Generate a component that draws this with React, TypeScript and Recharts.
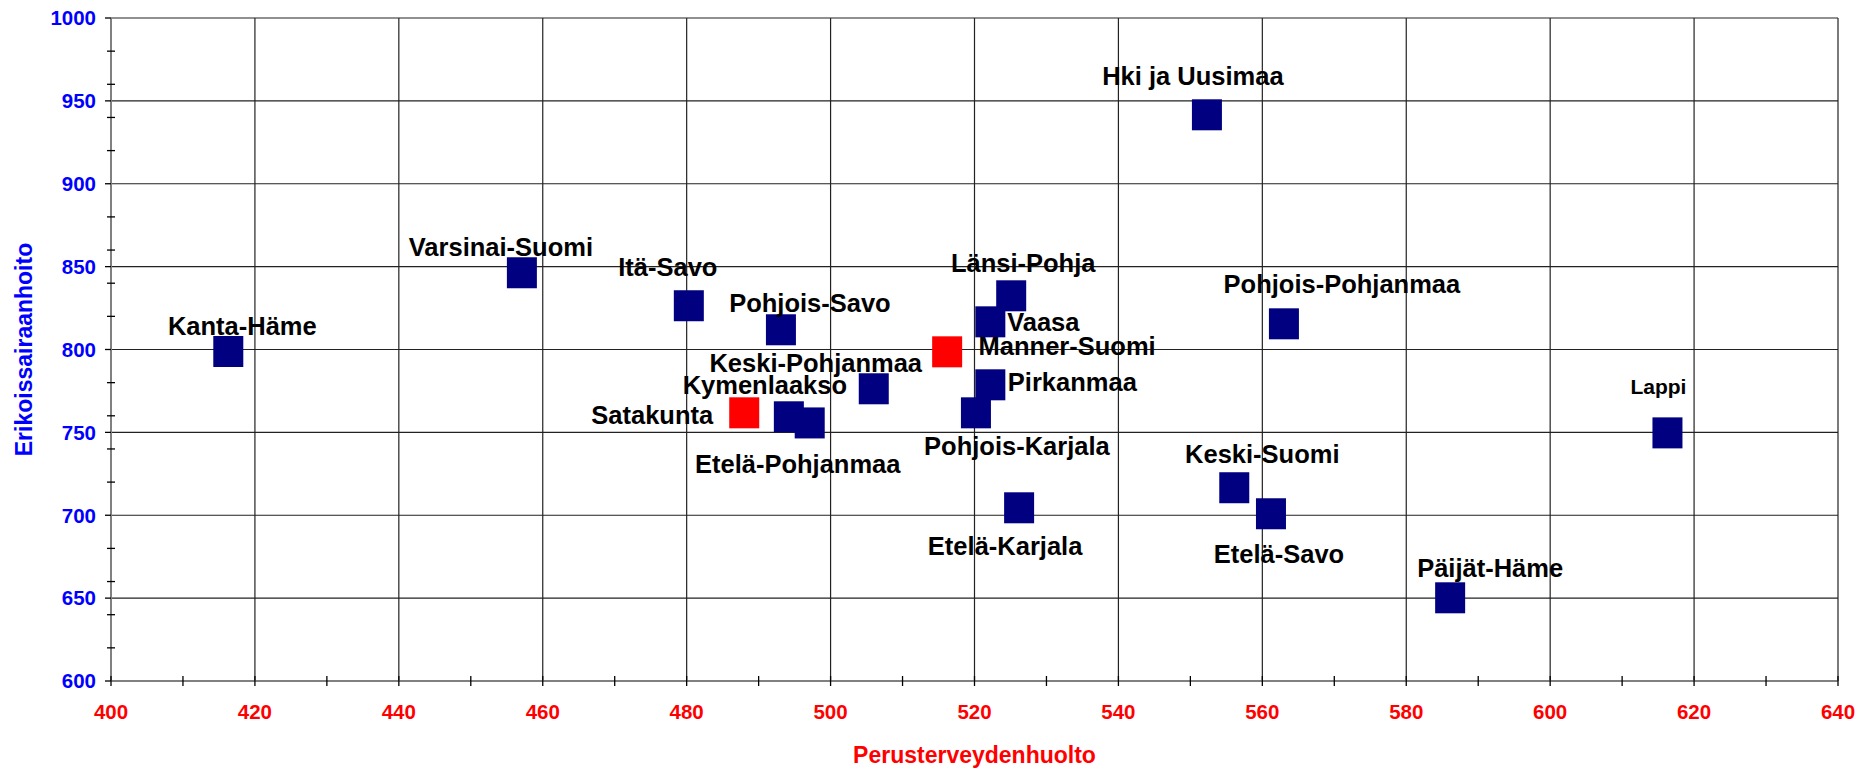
import { ScatterChart, Scatter, XAxis, YAxis, CartesianGrid } from 'recharts';

const regions = [
  'Kanta-Häme', 'Varsinai-Suomi', 'Itä-Savo', 'Pohjois-Savo', 'Keski-Pohjanmaa',
  'Kymenlaakso', 'Etelä-Pohjanmaa', 'Pohjois-Karjala', 'Etelä-Karjala', 'Vaasa',
  'Länsi-Pohja', 'Pirkanmaa', 'Hki ja Uusimaa', 'Pohjois-Pohjanmaa', 'Keski-Suomi',
  'Etelä-Savo', 'Päijät-Häme', 'Lappi',
];
const perusterveys = [416.3, 457.1, 480.3, 493.1, 506.0, 494.2, 497.1, 520.2, 526.2, 522.2, 525.1, 522.2, 552.3, 563.0, 556.1, 561.2, 586.1, 616.3];
const erikoissairaan = [799.1, 846.6, 826.7, 812.2, 776.6, 759.7, 756.0, 762.1, 704.8, 817.0, 832.7, 779.0, 941.9, 815.8, 716.9, 701.2, 650.5, 750.0];

const refRegions = ['Manner-Suomi', 'Satakunta'];
const refPerusterveys = [516.2, 488.0];
const refErikoissairaan = [798.9, 762.1];

const xMajor = [400, 420, 440, 460, 480, 500, 520, 540, 560, 580, 600, 620, 640];
const xMinor = [410, 430, 450, 470, 490, 510, 530, 550, 570, 590, 610, 630];
const yMajor = [600, 650, 700, 750, 800, 850, 900, 950, 1000];
const yMinor = [620, 640, 660, 680, 720, 740, 760, 780, 820, 840, 860, 880, 920, 940, 960, 980];

// label placement relative to marker centre: [dx, baseline dy]
const labelPos: Record<string, [number, number]> = {
  'Kanta-Häme': [14, -16],
  'Varsinai-Suomi': [-21, -16],
  'Itä-Savo': [-21, -29],
  'Pohjois-Savo': [29, -17],
  'Keski-Pohjanmaa': [-58, -16],
  'Kymenlaakso': [-24, -22],
  'Satakunta': [-92, 12],
  'Etelä-Pohjanmaa': [-12, 51],
  'Pohjois-Karjala': [41, 43],
  'Etelä-Karjala': [-14, 48],
  'Manner-Suomi': [120, 4],
  'Vaasa': [53, 10],
  'Pirkanmaa': [82, 7],
  'Länsi-Pohja': [12, -23],
  'Hki ja Uusimaa': [-14, -29],
  'Pohjois-Pohjanmaa': [58, -30],
  'Keski-Suomi': [28, -24],
  'Etelä-Savo': [8, 50],
  'Päijät-Häme': [40, -20],
  'Lappi': [-9, -38],
};

const mainData = regions.map((name, i) => ({ name, x: perusterveys[i], y: erikoissairaan[i] }));
const refData = refRegions.map((name, i) => ({ name, x: refPerusterveys[i], y: refErikoissairaan[i] }));

const xTicks = [...xMajor, ...xMinor].sort((a, b) => a - b);
const yTicks = [...yMajor, ...yMinor].sort((a, b) => a - b);

const FONT = '"Liberation Sans", Arial, sans-serif';
const TICK_SIZE = 5;
const X_MARGIN = 18;
const Y_MARGIN = 10;

const XTick = (props: any) => {
  const { x, y, payload } = props;
  const axisY = y - TICK_SIZE - X_MARGIN;
  const major = xMajor.includes(payload.value);
  return (
    <g>
      <line x1={x} x2={x} y1={axisY - 5} y2={axisY + 5} stroke="#000" strokeWidth={1.3} />
      {major && (
        <text x={x} y={y} dy="0.71em" textAnchor="middle" fill="#ff0000" fontSize={20.5} fontWeight="bold" fontFamily={FONT}>
          {payload.value}
        </text>
      )}
    </g>
  );
};

const YTick = (props: any) => {
  const { x, y, payload } = props;
  const axisX = x + TICK_SIZE + Y_MARGIN;
  const major = yMajor.includes(payload.value);
  return (
    <g>
      {major ? (
        <line x1={axisX - 6} x2={axisX} y1={y} y2={y} stroke="#000" strokeWidth={1.3} />
      ) : (
        <line x1={axisX - 4} x2={axisX + 4} y1={y} y2={y} stroke="#000" strokeWidth={1.3} />
      )}
      {major && (
        <text x={x} y={y} dy="0.355em" textAnchor="end" fill="#0000ff" fontSize={20.5} fontWeight="bold" fontFamily={FONT}>
          {payload.value}
        </text>
      )}
    </g>
  );
};

const makeMarker = (color: string) => (props: any) => {
  const { cx, cy, payload } = props;
  const [dx, dy] = labelPos[payload.name] || [0, -20];
  const small = payload.name === 'Lappi';
  return (
    <g>
      <rect x={cx - 15} y={cy - 15} width={30} height={31} fill={color} />
      <text
        x={cx + dx}
        y={cy + dy}
        textAnchor="middle"
        fontSize={small ? 21 : 25.5}
        fontWeight="bold"
        fontFamily={FONT}
        fill="#000"
      >
        {payload.name}
      </text>
    </g>
  );
};

export default function App() {
  return (
    <div style={{ position: 'absolute', left: 0, top: 0, background: '#fff' }}>
      <ScatterChart width={1872} height={771} margin={{ top: 18, right: 34, left: 0, bottom: 0 }}>
        <CartesianGrid
          stroke="#222"
          strokeWidth={1.2}
          horizontalValues={yMajor}
          verticalValues={xMajor}
        />
        <XAxis
          type="number"
          dataKey="x"
          domain={[400, 640]}
          ticks={xTicks}
          interval={0}
          height={90}
          tickSize={TICK_SIZE}
          tickMargin={X_MARGIN}
          tickLine={false}
          tick={<XTick />}
          axisLine={{ stroke: '#808080', strokeWidth: 2 }}
          label={{
            value: 'Perusterveydenhuolto',
            position: 'insideBottom',
            offset: 8,
            fill: '#ff0000',
            fontSize: 23,
            fontWeight: 'bold',
            fontFamily: FONT,
          }}
        />
        <YAxis
          type="number"
          dataKey="y"
          domain={[600, 1000]}
          ticks={yTicks}
          interval={0}
          width={111}
          tickSize={TICK_SIZE}
          tickMargin={Y_MARGIN}
          tickLine={false}
          tick={<YTick />}
          axisLine={{ stroke: '#808080', strokeWidth: 2 }}
          label={{
            value: 'Erikoissairaanhoito',
            angle: -90,
            position: 'insideLeft',
            offset: 24,
            fill: '#0000ff',
            fontSize: 23,
            fontWeight: 'bold',
            fontFamily: FONT,
            style: { textAnchor: 'middle' },
          }}
        />
        <Scatter data={mainData} fill="#000080" shape={makeMarker('#000080')} isAnimationActive={false} />
        <Scatter data={refData} fill="#ff0000" shape={makeMarker('#ff0000')} isAnimationActive={false} />
      </ScatterChart>
    </div>
  );
}
